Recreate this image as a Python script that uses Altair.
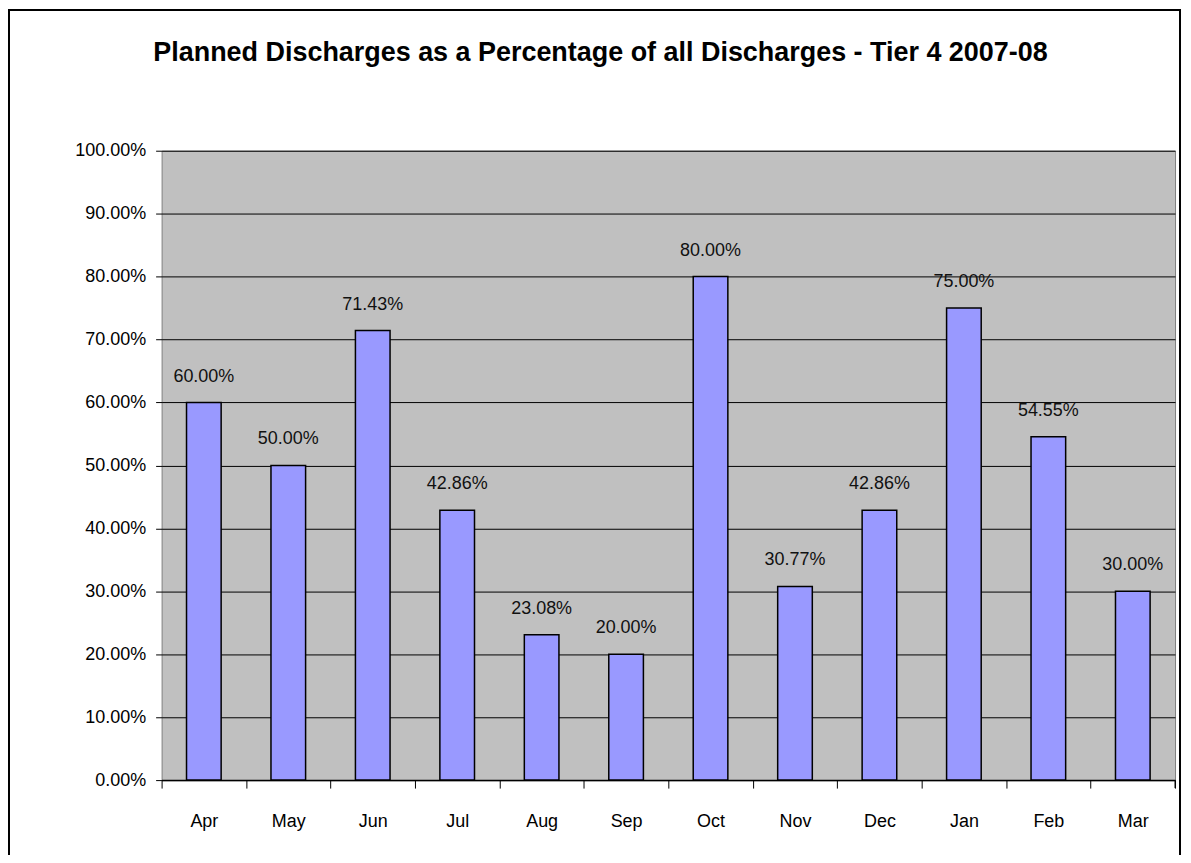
import altair as alt
import pandas as pd

months = ["Apr", "May", "Jun", "Jul", "Aug", "Sep", "Oct", "Nov", "Dec", "Jan", "Feb", "Mar"]
values = [0.60, 0.50, 0.7143, 0.4286, 0.2308, 0.20, 0.80, 0.3077, 0.4286, 0.75, 0.5455, 0.30]
y_ticks = [0.0, 0.1, 0.2, 0.3, 0.4, 0.5, 0.6, 0.7, 0.8, 0.9, 1.0]
title_text = "Planned Discharges as a Percentage of all Discharges - Tier 4 2007-08"

df = pd.DataFrame({"month": months, "value": values})

FONT = "Liberation Sans, Arial"
W, H = 1016, 631

x_enc = alt.X("month:N", sort=months, title=None,
              scale=alt.Scale(paddingInner=0, paddingOuter=0),
              axis=alt.Axis(labelAngle=0, tickBand="extent", tickSize=8, tickColor="black",
                            domainColor="black", domainWidth=1.5, labelPadding=25,
                            labelFont=FONT, labelFontSize=18, labelColor="black",
                            grid=False))
y_enc = alt.Y("value:Q", title=None,
              scale=alt.Scale(domain=[0, 1], nice=False),
              axis=alt.Axis(values=y_ticks, format=".2%", tickSize=6, tickColor="black",
                            domain=False, labelPadding=10, labelFont=FONT,
                            labelFontSize=18, labelColor="black",
                            grid=True, gridColor="black", gridWidth=1))

base = alt.Chart(df)
bars = base.mark_bar(width=alt.RelativeBandSize(0.41), color="#9999FF",
                     stroke="black", strokeWidth=1.5).encode(x=x_enc, y=y_enc)
labels = base.mark_text(font=FONT, fontSize=18, color="#111111", baseline="alphabetic",
                        dy=-21).encode(x=alt.X("month:N", sort=months),
                                       y="value:Q", text=alt.Text("value:Q", format=".2%"))

one = alt.Chart(pd.DataFrame({"a": [0]}))
edge_tick = one.mark_rule(color="black", strokeWidth=1).encode(
    x=alt.value(W), y=alt.value(H), y2=alt.value(H + 8))
border = one.mark_rect(fill=None, stroke="black", strokeWidth=2).encode(
    x=alt.value(-153), x2=alt.value(1021), y=alt.value(-141), y2=alt.value(760))

chart = alt.layer(bars, labels, edge_tick, border).properties(
    width=W, height=H,
    title=alt.TitleParams(title_text, font=FONT, fontSize=27, fontWeight="bold",
                          color="black", anchor="middle", frame="group", dx=-68,
                          baseline="alphabetic", offset=0, dy=79),
    autosize=alt.AutoSizeParams(type="none"),
    padding={"left": 154, "top": 142, "right": 8, "bottom": 74},
).configure(background="white").configure_view(fill="#C0C0C0", stroke="#808080", strokeWidth=1)

chart.save("out.html", embed_options={"renderer": "svg", "actions": False})
